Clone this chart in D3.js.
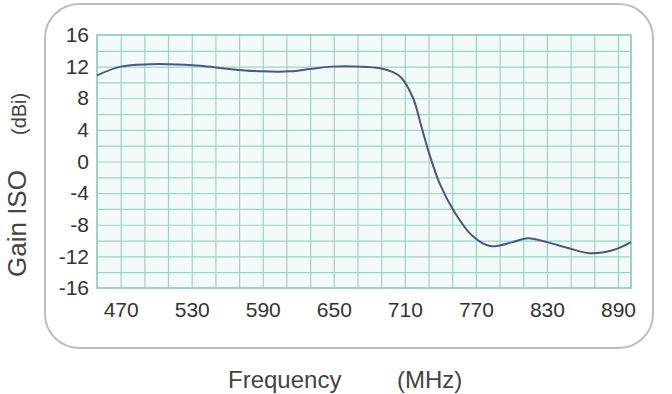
<!DOCTYPE html>
<html>
<head>
<meta charset="utf-8">
<script src="https://cdn.jsdelivr.net/npm/d3@7"></script>
<style>
  body { margin: 0; background: #fff; }
  svg { display: block; font-family: "Liberation Sans", Arial, sans-serif; }
</style>
</head>
<body>
<div id="chart"></div>
<script>
// frequency (MHz) and gain (dBi)
const freqs = [450, 470, 494, 511, 537, 562, 589, 613, 630, 648, 672, 689, 700, 707, 717, 724, 731, 740, 752, 767, 782, 801, 814, 830, 847, 866, 886, 901];
const gains = [10.9, 12.0, 12.3, 12.3, 12.1, 11.7, 11.4, 11.4, 11.7, 12.0, 12.0, 11.8, 11.3, 10.6, 8.0, 4.4, 0.8, -3.0, -6.4, -9.4, -10.7, -10.2, -9.7, -10.2, -10.9, -11.6, -11.2, -10.2];

const xTicks = [470, 530, 590, 650, 710, 770, 830, 890];
const yTicks = [16, 12, 8, 4, 0, -4, -8, -12, -16];

const width = 672, height = 394;
const plot = { left: 97, right: 631, top: 35, bottom: 288 };

const svg = d3.select("#chart").append("svg")
    .attr("width", width)
    .attr("height", height);

// rounded outer frame
svg.append("rect")
    .attr("x", 45)
    .attr("y", 4)
    .attr("width", 608)
    .attr("height", 344)
    .attr("rx", 34)
    .attr("fill", "none")
    .attr("stroke", "#bdbdbd")
    .attr("stroke-width", 2);

const x = d3.scaleLinear().domain([450, 901]).range([plot.left, plot.right]);
const y = d3.scaleLinear().domain([-16, 16]).range([plot.bottom, plot.top]);

// plot background
svg.append("rect")
    .attr("x", plot.left)
    .attr("y", plot.top)
    .attr("width", plot.right - plot.left)
    .attr("height", plot.bottom - plot.top)
    .attr("fill", "#f3fbfa");

// grid: every 20 MHz and every 2 dB
svg.append("g")
    .attr("transform", `translate(0,${plot.bottom})`)
    .call(d3.axisBottom(x)
        .tickValues(d3.range(470, 900, 20))
        .tickSize(-(plot.bottom - plot.top))
        .tickFormat(""))
    .call(g => g.select(".domain").remove())
    .selectAll("line")
    .attr("stroke", "#9cd3c8")
    .attr("stroke-width", 1.2);

svg.append("g")
    .attr("transform", `translate(${plot.left},0)`)
    .call(d3.axisLeft(y)
        .tickValues(d3.range(-14, 16, 2))
        .tickSize(-(plot.right - plot.left))
        .tickFormat(""))
    .call(g => g.select(".domain").remove())
    .selectAll("line")
    .attr("stroke", "#9cd3c8")
    .attr("stroke-width", 1.2);

svg.append("rect")
    .attr("x", plot.left)
    .attr("y", plot.top)
    .attr("width", plot.right - plot.left)
    .attr("height", plot.bottom - plot.top)
    .attr("fill", "none")
    .attr("stroke", "#7fc7b8")
    .attr("stroke-width", 1.5);

// tick labels (plain hyphen for negatives, as in the original)
svg.append("g")
    .attr("transform", `translate(0,${plot.bottom})`)
    .call(d3.axisBottom(x).tickValues(xTicks).tickSize(0).tickPadding(14).tickFormat(d => String(d)))
    .call(g => g.select(".domain").remove())
    .selectAll("text")
    .attr("dy", "0.71em")
    .style("font-size", "21px")
    .style("fill", "#333");

svg.append("g")
    .attr("transform", `translate(${plot.left},0)`)
    .call(d3.axisLeft(y).tickValues(yTicks).tickSize(0).tickPadding(8).tickFormat(d => String(d)))
    .call(g => g.select(".domain").remove())
    .selectAll("text")
    .style("font-size", "21px")
    .style("fill", "#333");

// gain curve
const pts = freqs.map((f, i) => [f, gains[i]]);
svg.append("path")
    .datum(pts)
    .attr("fill", "none")
    .attr("stroke", "#4f5583")
    .attr("stroke-width", 2)
    .attr("d", d3.line()
        .x(d => x(d[0]))
        .y(d => y(d[1]))
        .curve(d3.curveCatmullRom.alpha(0.5)));

// axis titles
svg.append("text")
    .attr("x", 228)
    .attr("y", 388)
    .style("font-size", "24px")
    .style("fill", "#444")
    .text("Frequency");

svg.append("text")
    .attr("x", 397)
    .attr("y", 388)
    .style("font-size", "24px")
    .style("fill", "#444")
    .text("(MHz)");

svg.append("text")
    .attr("transform", "translate(26,277) rotate(-90)")
    .style("font-size", "26px")
    .style("fill", "#444")
    .text("Gain ISO");

svg.append("text")
    .attr("transform", "translate(26,135) rotate(-90)")
    .style("font-size", "20px")
    .style("fill", "#444")
    .text("(dBi)");
</script>
</body>
</html>
